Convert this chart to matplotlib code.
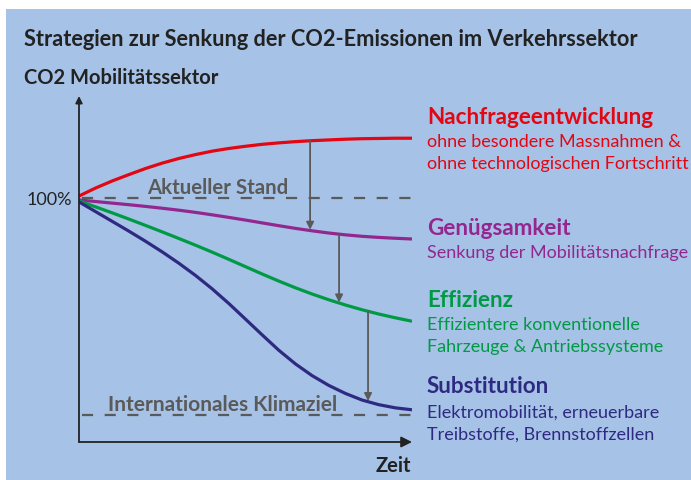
"""Schema: Strategien zur Senkung der CO2-Emissionen im Verkehrssektor."""
import matplotlib
matplotlib.use("Agg")
import matplotlib.pyplot as plt
from matplotlib.patches import Rectangle

plt.rcParams["font.family"] = ["Lato", "DejaVu Sans"]

# Zeitachse (0 = heute, 100 = Zielhorizont), CO2 in % des aktuellen Stands
zeit = [0, 5, 10, 15, 20, 25, 30, 35, 40, 45, 50,
        55, 60, 65, 70, 75, 80, 85, 90, 95, 100]
nachfrage = [100.8, 104.1, 107.0, 109.6, 112.1, 114.3, 116.2, 117.8, 119.2, 120.3, 121.2,
             122.0, 122.6, 123.1, 123.5, 123.8, 124.1, 124.3, 124.4, 124.5, 124.5]
genuegsamkeit = [99.2, 98.55, 97.9, 97.25, 96.55, 95.8, 95.0, 94.1, 93.1, 92.05, 90.95,
                 89.8, 88.65, 87.55, 86.55, 85.65, 84.9, 84.3, 83.85, 83.5, 83.2]
effizienz = [98.8, 96.35, 93.9, 91.35, 88.75, 86.1, 83.4, 80.65, 77.8, 74.85, 71.85,
             68.85, 65.95, 63.2, 60.65, 58.3, 56.15, 54.2, 52.45, 50.9, 49.5]
substitution = [98.4, 94.4, 90.4, 86.4, 82.25, 77.9, 73.25, 68.25, 62.75, 56.75, 50.35,
                43.9, 37.6, 32.0, 27.2, 23.2, 19.9, 17.2, 15.3, 14.0, 13.2]

aktueller_stand = 100.0
klimaziel = 10.9

# Pfeile: Zeitpunkt, von, bis
pfeil_zeit = [69.4, 78.1, 86.8]
pfeil_von = [123.4, 85.2, 53.6]
pfeil_bis = [87.0, 57.2, 16.8]

# Farben
bg_blue = "#A6C2E6"
red = "#E30613"
purple = "#93278F"
green = "#009A44"
navy = "#2E2A82"
grey = "#5A5A5A"
dark = "#222222"

W, H = 691, 481
fig = plt.figure(figsize=(W / 100, H / 100), dpi=100, facecolor="white")

# Hintergrund und Texte in Pixelkoordinaten
bg = fig.add_axes([0, 0, 1, 1])
bg.set_xlim(0, W)
bg.set_ylim(H, 0)
bg.axis("off")
bg.add_patch(Rectangle((6, 10), W - 6, H - 10, facecolor=bg_blue, edgecolor="none"))

bg.text(24, 40, "Strategien zur Senkung der CO2-Emissionen im Verkehrssektor",
        fontsize=15.7, fontweight="bold", color=dark, va="center", ha="left")
bg.text(24, 78, "CO2 Mobilitätssektor", fontsize=14.5, fontweight="bold",
        color=dark, va="center", ha="left")
bg.text(72, 200, "100%", fontsize=13, color=dark, va="center", ha="right")
bg.text(411, 466, "Zeit", fontsize=14.5, fontweight="bold", color=dark,
        va="center", ha="right")

labels = [
    ("Nachfrageentwicklung", red, 117,
     ["ohne besondere Massnahmen &", "ohne technologischen Fortschritt"], [142, 164]),
    ("Genügsamkeit", purple, 229, ["Senkung der Mobilitätsnachfrage"], [253]),
    ("Effizienz", green, 301,
     ["Effizientere konventionelle", "Fahrzeuge & Antriebssysteme"], [325, 347]),
    ("Substitution", navy, 387,
     ["Elektromobilität, erneuerbare", "Treibstoffe, Brennstoffzellen"], [413, 435]),
]
for head, col, y, lines, ys in labels:
    bg.text(427, y, head, fontsize=16.2, fontweight="bold", color=col,
            va="center", ha="left")
    for line, yy in zip(lines, ys):
        bg.text(427, yy, line, fontsize=13, color=col, va="center", ha="left")

# Diagrammbereich
x0, x1, ytop, ybot = 79, 412, 97, 443
ax = fig.add_axes([x0 / W, (H - ybot) / H, (x1 - x0) / W, (ybot - ytop) / H])
ax.set_xlim(0, 100)
ax.set_ylim(0, 100 * (ybot - ytop) / (ybot - 199))
ax.axis("off")

for val in (aktueller_stand, klimaziel):
    ax.plot([1, 100], [val, val], color=grey, lw=1.6, dashes=(5, 5.2), zorder=1)
ax.text(41.8, 104.5, "Aktueller Stand", fontsize=14.7, fontweight="bold",
        color=grey, ha="center", va="center")
ax.text(43.2, 15.6, "Internationales Klimaziel", fontsize=15, fontweight="bold",
        color=grey, ha="center", va="center")

for serie, col in ((nachfrage, red), (genuegsamkeit, purple),
                   (effizienz, green), (substitution, navy)):
    ax.plot(zeit, serie, color=col, lw=2.3, solid_capstyle="butt",
            solid_joinstyle="round", zorder=3)

for t, a, b in zip(pfeil_zeit, pfeil_von, pfeil_bis):
    ax.annotate("", xy=(t, b), xytext=(t, a),
                arrowprops=dict(arrowstyle="-|>", color=grey, lw=1.3,
                                mutation_scale=11, shrinkA=0, shrinkB=0),
                zorder=4)

# Achsen mit Pfeilspitzen
ax.annotate("", xy=(100, 0), xytext=(0, 0), annotation_clip=False,
            arrowprops=dict(arrowstyle="-|>", color=dark, lw=1.3,
                            mutation_scale=16, shrinkA=0, shrinkB=0))
ax.annotate("", xy=(0, ax.get_ylim()[1]), xytext=(0, 0), annotation_clip=False,
            arrowprops=dict(arrowstyle="-|>", color=dark, lw=1.3,
                            mutation_scale=10, shrinkA=0, shrinkB=0))

fig.savefig("out.png", dpi=100, facecolor="white")
